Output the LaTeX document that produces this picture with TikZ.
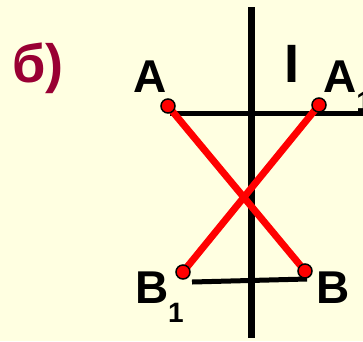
\documentclass[tikz,border=0pt]{standalone}
\usepackage{fontspec}
\setmainfont{Liberation Sans}
\definecolor{bg}{RGB}{255,255,225}
\definecolor{maroon}{RGB}{153,0,51}
\definecolor{redline}{RGB}{255,0,0}
\begin{document}
\begin{tikzpicture}[x=1pt,y=-1pt,
  dot/.style={circle,draw=black,line width=1.5pt,fill=redline,minimum size=14pt,inner sep=0pt},
  lbl/.style={font=\fontsize{46}{46}\bfseries\selectfont,inner sep=0pt,anchor=base},
  axis/.style={line width=7.5pt,black},
  seg/.style={line width=5pt,black},
  red/.style={line width=7pt,redline}]
\fill[bg] (0,0) rectangle (363,341);
\useasboundingbox (0,0) rectangle (363,341);
% axis
\coordinate (ax1) at (251.5,7);
\coordinate (ax2) at (251.5,338);
\draw[axis] (ax1) -- (ax2);
% points
\coordinate (pA) at (168,106);
\coordinate (pA1) at (319,105);
\coordinate (pB1) at (183,272);
\coordinate (pB) at (305,271);
\coordinate (hEnd) at (363,113);
\coordinate (hStart) at (170,113);
\coordinate (bStart) at (192,282);
\coordinate (bEnd) at (307,279);
\draw[seg] (hStart) -- (hEnd);
\draw[seg] (bStart) -- (bEnd);
\draw[red] (pA) -- (pB);
\draw[red] (pA1) -- (pB1);
\node[dot] (A) at (pA) {};
\node[dot] (A1) at (pA1) {};
\node[dot] (B1) at (pB1) {};
\node[dot] (B) at (pB) {};
% labels
\node[lbl] (lA) at (150,92) {A};
\node[lbl,anchor=base west] (lA1) at (323,92) {A\raisebox{-19pt}{\fontsize{28}{28}\selectfont 1}};
\node[lbl,font=\fontsize{54}{54}\bfseries\selectfont] (lI) at (292,82) {I};
\node[lbl] (lB1) at (152,303) {B};
\node[lbl,font=\fontsize{28}{28}\bfseries\selectfont] (lsub) at (176,322) {1};
\node[lbl] (lB) at (333,303) {B};
\node[lbl,anchor=base west,text=maroon,font=\fontsize{54}{54}\bfseries\selectfont] (lb) at (12,82) {б)};
\end{tikzpicture}
\end{document}
